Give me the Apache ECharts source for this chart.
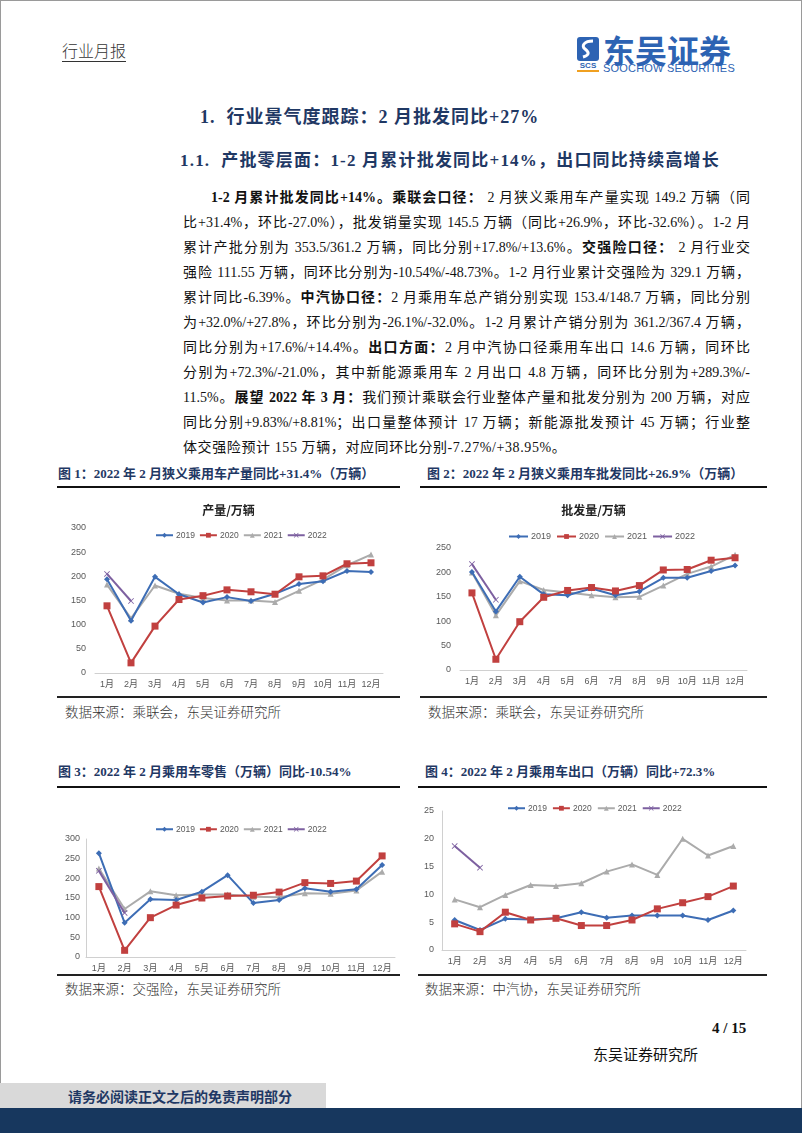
<!DOCTYPE html>
<html><head><meta charset="utf-8">
<script src="https://cdn.jsdelivr.net/npm/echarts/dist/echarts.min.js"></script>
<style>
html,body{margin:0;padding:0;background:#fff;}
body{width:802px;height:1133px;position:relative;overflow:hidden;font-family:"Liberation Serif","Noto Sans CJK SC",serif;color:#111;}
.a{position:absolute;white-space:nowrap;}
.frame{position:absolute;left:0;top:0;width:800px;height:1131px;border:1px solid #9a9a9a;}
.ln{position:absolute;left:183px;width:567px;height:20px;line-height:20px;font-size:14px;text-align:justify;text-align-last:justify;white-space:nowrap;}
.ln b{font-weight:bold;}
.ft{position:absolute;font-size:13px;font-weight:bold;color:#1f3864;height:18px;line-height:18px;white-space:nowrap;}
.rule{position:absolute;height:2px;background:#111;}
.rule2{position:absolute;height:1.5px;background:#222;}
.src{position:absolute;font-size:13.5px;color:#333;height:18px;line-height:18px;white-space:nowrap;font-family:"Noto Sans CJK SC",sans-serif;font-weight:300;}
.chart{position:absolute;}
</style></head><body>
<div class="frame"></div>

<div class="a" style="left:62px;top:39px;font-size:16px;line-height:22px;color:#333;font-family:'Noto Sans CJK SC';font-weight:300;border-bottom:1px solid #333;">行业月报</div>

<svg class="a" style="left:576px;top:36px" width="26" height="38" viewBox="0 0 26 38">
  <rect x="1" y="1" width="22" height="24" rx="3" fill="#2d63b3"/>
  <path d="M17,5 C8,5 5,10 9,13 C13,16 14,19 7,21" stroke="#fff" stroke-width="3" fill="none"/>
  <text x="12" y="32" font-size="8" font-weight="bold" fill="#2d63b3" text-anchor="middle" font-family="Liberation Sans">SCS</text>
  <rect x="1" y="34" width="22" height="2" fill="#f0a020"/>
</svg>
<div class="a" style="left:603px;top:30px;font-size:32px;line-height:38px;font-weight:bold;color:#2d63b3;font-family:'Noto Sans CJK SC';letter-spacing:0px;">东吴证券</div>
<div class="a" style="left:603px;top:62px;font-size:11px;line-height:12px;color:#2d63b3;font-family:'Liberation Sans';letter-spacing:0.2px;">SOOCHOW SECURITIES</div>

<div class="a" style="left:200px;top:105px;font-size:18px;line-height:24px;font-weight:bold;color:#1f3864;letter-spacing:1px;">1.&nbsp;&nbsp;行业景气度跟踪：2 月批发同比+27%</div>
<div class="a" style="left:180px;top:150px;font-size:17px;line-height:22px;font-weight:bold;color:#1f3864;letter-spacing:1.2px;">1.1.&nbsp;&nbsp;产批零层面：1-2 月累计批发同比+14%，出口同比持续高增长</div>

<div class="ln" style="left:211px;width:539px;top:188px;"><b>1-2 月累计批发同比+14%。乘联会口径：</b> 2 月狭义乘用车产量实现 149.2 万辆（同</div>
<div class="ln" style="top:213px;">比+31.4%，环比-27.0%），批发销量实现 145.5 万辆（同比+26.9%，环比-32.6%）。1-2 月</div>
<div class="ln" style="top:238px;">累计产批分别为 353.5/361.2 万辆，同比分别+17.8%/+13.6%。<b>交强险口径：</b> 2 月行业交</div>
<div class="ln" style="top:263px;">强险 111.55 万辆，同环比分别为-10.54%/-48.73%。1-2 月行业累计交强险为 329.1 万辆，</div>
<div class="ln" style="top:288px;">累计同比-6.39%。<b>中汽协口径：</b>2 月乘用车总产销分别实现 153.4/148.7 万辆，同比分别</div>
<div class="ln" style="top:313px;">为+32.0%/+27.8%，环比分别为-26.1%/-32.0%。1-2 月累计产销分别为 361.2/367.4 万辆，</div>
<div class="ln" style="top:338px;">同比分别为+17.6%/+14.4%。<b>出口方面：</b>2 月中汽协口径乘用车出口 14.6 万辆，同环比</div>
<div class="ln" style="top:363px;">分别为+72.3%/-21.0%，其中新能源乘用车 2 月出口 4.8 万辆，同环比分别为+289.3%/-</div>
<div class="ln" style="top:388px;">11.5%。<b>展望 2022 年 3 月：</b>我们预计乘联会行业整体产量和批发分别为 200 万辆，对应</div>
<div class="ln" style="top:413px;">同比分别+9.83%/+8.81%；出口量整体预计 17 万辆；新能源批发预计 45 万辆；行业整</div>
<div class="ln" style="top:438px;text-align:left;text-align-last:left;letter-spacing:0.6px;">体交强险预计 155 万辆，对应同环比分别-7.27%/+38.95%。</div>

<div class="ft" style="left:58px;top:465px;">图 1：2022 年 2 月狭义乘用车产量同比+31.4%（万辆）</div>
<div class="ft" style="left:427px;top:465px;">图 2：2022 年 2 月狭义乘用车批发同比+26.9%（万辆）</div>
<div class="rule" style="left:57px;top:486px;width:343px;"></div>
<div class="rule" style="left:420px;top:486px;width:347px;"></div>
<div id="c1" class="chart" style="left:57px;top:490px;width:343px;height:205px;"></div>
<div id="c2" class="chart" style="left:420px;top:490px;width:347px;height:205px;"></div>
<div class="rule2" style="left:57px;top:696px;width:343px;"></div>
<div class="rule2" style="left:420px;top:696px;width:347px;"></div>
<div class="src" style="left:65px;top:702px;">数据来源：乘联会，东吴证券研究所</div>
<div class="src" style="left:428px;top:702px;">数据来源：乘联会，东吴证券研究所</div>

<div class="ft" style="left:58px;top:763px;">图 3：2022 年 2 月乘用车零售（万辆）同比-10.54%</div>
<div class="ft" style="left:425px;top:763px;">图 4：2022 年 2 月乘用车出口（万辆）同比+72.3%</div>
<div class="rule" style="left:57px;top:786px;width:343px;"></div>
<div class="rule" style="left:418px;top:786px;width:349px;"></div>
<div id="c3" class="chart" style="left:57px;top:790px;width:343px;height:183px;"></div>
<div id="c4" class="chart" style="left:420px;top:790px;width:347px;height:183px;"></div>
<div class="rule2" style="left:57px;top:974px;width:343px;"></div>
<div class="rule2" style="left:418px;top:974px;width:349px;"></div>
<div class="src" style="left:65px;top:979px;">数据来源：交强险，东吴证券研究所</div>
<div class="src" style="left:425px;top:979px;">数据来源：中汽协，东吴证券研究所</div>

<div class="a" style="left:712px;top:1018px;font-size:15px;line-height:20px;font-weight:bold;">4 / 15</div>
<div class="a" style="left:593px;top:1043px;font-size:15px;line-height:22px;font-family:'Noto Sans CJK SC';">东吴证券研究所</div>
<div class="a" style="left:0;top:1083px;width:326px;height:25px;background:#d9d9d9;"></div>
<div class="a" style="left:68px;top:1085px;font-size:14px;line-height:22px;font-weight:bold;color:#1f3864;font-family:'Noto Sans CJK SC';">请务必阅读正文之后的免责声明部分</div>
<div class="a" style="left:0;top:1108px;width:802px;height:25px;background:#17375e;"></div>

<script>
// ---- data ----
const months = ['1月','2月','3月','4月','5月','6月','7月','8月','9月','10月','11月','12月'];
const years = ['2019','2020','2021','2022'];
// 图1 产量/万辆
const prod2019 = [194,108,199,163,146,157,149,164,184,190,211,209];
const prod2020 = [139,21,97,152,160,172,168,163,199,201,226,228];
const prod2021 = [183,113,181,164,155,150,150,147,170,193,223,245];
const prod2022 = [205,149];
// 图2 批发量/万辆
const whsl2019 = [201,120,191,155,153,167,153,161,189,189,203,214];
const whsl2020 = [158,22,99,149,163,169,162,173,205,206,225,230];
const whsl2021 = [200,112,182,164,159,153,149,150,173,197,212,236];
const whsl2022 = [217,144];
// 图3 零售（交强险）
const retl2019 = [264,87,147,145,166,208,137,145,175,166,172,234];
const retl2020 = [179,17,100,132,150,155,157,165,189,187,193,257];
const retl2021 = [225,122,167,157,159,159,153,152,162,161,169,217];
const retl2022 = [219,112];
// 图4 出口
const expt2019 = [5.4,3.6,5.6,5.5,5.7,6.8,5.8,6.2,6.2,6.2,5.4,7.1];
const expt2020 = [4.7,3.3,6.8,5.4,5.7,4.4,4.4,5.4,7.4,8.5,9.6,11.5];
const expt2021 = [9.1,7.7,9.9,11.7,11.5,12.0,14.1,15.4,13.5,20.0,17.0,18.7];
const expt2022 = [18.7,14.8];

const COLORS = ['#3d6db5','#c1403f','#ababab','#7d60a0'];
const XSYM = 'path://M0,1L1,0L5,4L9,0L10,1L6,5L10,9L9,10L5,6L1,10L0,9L4,5Z';
const FONT = "'Liberation Sans','Noto Sans CJK SC',sans-serif";

function build(id, o){
  const ch = echarts.init(document.getElementById(id), null, {renderer:'canvas'});
  const syms = ['diamond','rect','triangle',XSYM];
  const sizes = o.sizes || [6,7,6,6];
  const series = o.data.map((d,i)=>({
    name: years[i], type:'line', data:d,
    symbol: syms[i], symbolSize: sizes[i],
    lineStyle:{width:2,color:COLORS[i]},
    itemStyle:{color:COLORS[i]},
    emphasis:{disabled:true}, animation:false, z: i===2?2:3+i
  }));
  const opt = {
    animation:false,
    textStyle:{fontFamily:FONT},
    grid:o.grid,
    legend:{data:years, left:o.legend.left, top:o.legend.top, itemWidth:o.legend.iw||18, itemHeight:6,
      itemGap:o.legend.gap||5, textStyle:{fontSize:o.legend.fs||8.5,color:'#595959',fontFamily:FONT,padding:[0,0,0,-2]}},
    xAxis:{type:'category', data:months, boundaryGap:true,
      axisLine:{show:true,lineStyle:{color:'#d0d0d0',width:1}}, axisTick:{show:false},
      axisLabel:{color:'#595959',fontSize:9,margin:7,interval:0,fontFamily:FONT}},
    yAxis:{type:'value', min:0, max:o.max, interval:o.iv,
      axisLine:{show:!!o.yline,lineStyle:{color:'#d0d0d0'}}, axisTick:{show:false}, splitLine:{show:false},
      axisLabel:{color:'#595959',fontSize:9,margin:o.ym||9,fontFamily:FONT}},
    series
  };
  if(o.title){ opt.title = {text:o.title,left:'center',top:o.titleTop,textStyle:{fontSize:12,fontWeight:'bold',color:'#222',fontFamily:"'Noto Sans CJK SC',sans-serif"}}; }
  ch.setOption(opt);
}

build('c1',{title:'产量/万辆',titleTop:9,grid:{left:38,top:38,width:288,height:145},
  legend:{left:93,top:36,fs:8.5,gap:4,iw:17},max:300,iv:50,
  data:[prod2019,prod2020,prod2021,prod2022]});
build('c2',{title:'批发量/万辆',titleTop:9,grid:{left:40,top:58,width:287,height:122},
  legend:{left:83,top:37,fs:9,gap:5,iw:19},max:250,iv:50,
  data:[whsl2019,whsl2020,whsl2021,whsl2022]});
build('c3',{grid:{left:29,top:49,width:309,height:118},yline:true,ym:6,
  legend:{left:93,top:30,fs:8.5,gap:4,iw:17},max:300,iv:50,
  data:[retl2019,retl2020,retl2021,retl2022]});
build('c4',{grid:{left:22,top:21,width:304,height:139},yline:true,ym:8,
  legend:{left:82,top:9,fs:8.5,gap:5,iw:17},max:25,iv:5,
  data:[expt2019,expt2020,expt2021,expt2022]});
</script>
</body></html>
